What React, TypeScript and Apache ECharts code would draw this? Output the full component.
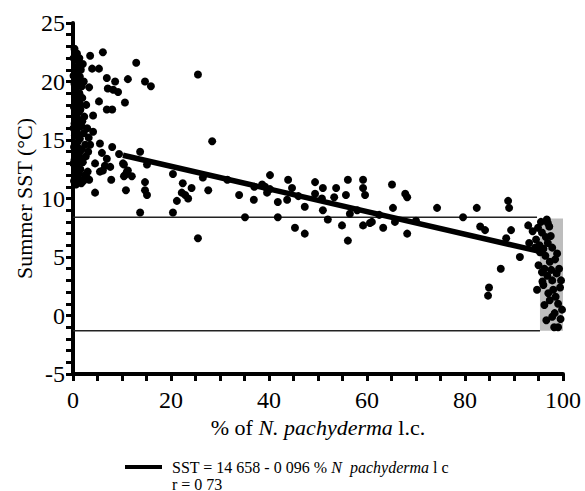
import React, { useEffect, useRef } from "react";
import * as echarts from "echarts";

// Samples with low % N. pachyderma (dense column near 0)
const leftCluster: number[][] = [
  [0.3, 22.8], [0.8, 22.4], [0.5, 21.9], [1.2, 21.6], [0.4, 21.2], [1.6, 21.0], [0.7, 20.6], [1.1, 20.2],
  [0.3, 19.8], [1.8, 19.6], [0.6, 19.3], [1.3, 19.0], [0.4, 18.6], [1.9, 18.6], [0.9, 18.2], [0.2, 17.8],
  [1.5, 17.6], [0.6, 17.2], [1.0, 16.8], [0.3, 16.4], [1.7, 16.2], [0.8, 15.9], [2.2, 15.6], [0.4, 15.4],
  [1.4, 15.1], [0.9, 14.8], [0.2, 14.4], [1.8, 14.2], [0.6, 13.9], [1.2, 13.6], [0.3, 13.3], [2.0, 13.1],
  [0.8, 12.8], [1.5, 12.5], [0.4, 12.2], [2.4, 12.0], [1.0, 11.8], [0.2, 11.5], [1.7, 11.3], [0.6, 11.2],
  [2.8, 11.8], [3.0, 12.3], [2.6, 13.6], [2.5, 14.6], [2.3, 17.0], [2.7, 18.0], [2.2, 20.0], [2.0, 21.5],
  [0.1, 20.5], [0.1, 16.0], [0.1, 13.0], [0.1, 22.0], [1.3, 22.0], [1.4, 14.0], [1.1, 12.2], [2.1, 11.5],
  [0.5, 14.1], [1.5, 18.0], [1.0, 19.8], [0.7, 15.5], [1.9, 16.6], [1.6, 13.2], [0.9, 21.0], [3.2, 15.2],
  [2.9, 16.0], [3.3, 19.5], [1.2, 17.4], [0.5, 20.9], [1.4, 20.4], [0.6, 18.9], [1.2, 18.4], [0.5, 17.5],
  [1.3, 16.5], [0.5, 16.1], [1.1, 15.4], [0.5, 14.7], [1.1, 14.3], [0.7, 12.5], [1.3, 11.6], [0.9, 13.4],
];

// Samples between about 3 % and 30 %
const lowPoints: number[][] = [
  [5.5, 14.7], [8.0, 14.4], [9.4, 13.8], [5.9, 13.9], [6.9, 13.4], [7.6, 12.7], [6.1, 12.4], [7.8, 11.6],
  [10.4, 12.9], [11.0, 12.3], [12.0, 11.9], [10.4, 11.9], [10.8, 10.7], [13.7, 14.0], [15.1, 12.9],
  [14.7, 11.4], [14.7, 10.7], [15.1, 10.3], [13.7, 8.8], [20.4, 8.8], [20.4, 12.1], [22.4, 11.3],
  [22.2, 10.5], [22.9, 10.3], [23.5, 10.0], [24.2, 10.9], [21.2, 9.8], [25.5, 6.6], [28.4, 14.9],
  [27.6, 10.7], [26.5, 11.8], [3.5, 22.2], [6.1, 22.5], [12.9, 21.6], [3.9, 21.1], [5.3, 21.1],
  [6.9, 20.3], [8.6, 20.0], [11.2, 20.2], [14.7, 20.0], [15.9, 19.6], [7.1, 19.4], [8.2, 19.3],
  [9.2, 19.1], [5.3, 18.3], [10.6, 18.2], [6.9, 17.6], [8.0, 17.6], [4.1, 17.1], [4.1, 15.7],
  [3.5, 14.6], [3.1, 14.0], [4.5, 13.0], [6.5, 12.8], [5.5, 12.3], [10.2, 13.0], [10.6, 12.0],
  [11.2, 12.4], [3.3, 11.6], [4.5, 10.5], [25.5, 20.6],
];

// Samples between about 30 % and 94 %
const midPoints: number[][] = [
  [33.9, 10.3], [36.9, 9.9], [35.1, 8.4], [40.2, 12.0], [39.6, 10.5], [39.2, 11.0], [40.2, 10.8],
  [38.6, 11.2], [41.8, 9.7], [43.9, 11.6], [44.7, 10.9], [43.7, 9.9], [41.8, 8.4], [45.3, 7.5],
  [47.3, 7.0], [47.3, 9.3], [49.4, 11.4], [49.4, 10.4], [51.0, 10.9], [50.8, 10.0], [51.0, 9.0],
  [52.0, 8.2], [53.7, 10.9], [53.3, 10.1], [54.9, 7.7], [55.7, 10.3], [56.1, 11.6], [56.1, 6.4],
  [59.2, 11.6], [59.2, 10.9], [59.6, 10.3], [60.6, 7.9], [59.2, 7.7], [56.5, 8.7], [65.1, 11.2],
  [67.8, 10.4], [68.2, 10.1], [65.3, 9.2], [61.0, 8.0], [63.3, 7.5], [68.2, 7.0], [74.3, 9.2],
  [82.4, 9.2], [79.6, 8.4], [83.1, 7.6], [84.1, 7.3], [65.7, 8.0], [88.8, 9.8], [89.0, 9.2],
  [89.4, 7.3], [88.4, 6.6], [92.9, 7.7], [93.1, 6.2], [91.2, 5.0], [87.3, 4.0], [84.9, 2.4],
  [84.7, 1.7], [31.5, 11.6], [37.0, 11.0], [46.0, 10.2], [58.0, 9.0], [62.5, 8.6], [70.0, 8.1],
];

// Samples with high % N. pachyderma (dense column near 100)
const rightCluster: number[][] = [
  [95.5, 8.0], [96.7, 8.2], [97.2, 7.6], [95.7, 7.1], [96.5, 6.7], [96.9, 6.2], [95.2, 6.0], [97.8, 5.8],
  [95.3, 5.4], [96.4, 5.1], [97.3, 4.6], [98.4, 4.8], [95.0, 4.3], [95.7, 3.7], [96.8, 3.4], [97.8, 3.0],
  [98.7, 3.6], [94.7, 2.2], [96.0, 2.6], [99.4, 2.4], [97.0, 1.9], [98.5, 1.6], [97.3, 1.3], [96.2, 0.9],
  [99.8, 0.5], [98.3, 0.2], [97.8, -0.1], [96.6, -0.4], [99.0, -1.0], [98.2, -1.0], [99.5, -0.3],
  [96.0, 5.7], [97.5, 6.8], [98.0, 2.2], [99.0, 1.0], [94.9, 7.5], [96.2, 4.0], [97.6, 3.9], [95.8, 2.9],
  [94.5, 6.5], [94.3, 5.8], [93.8, 7.2], [98.8, 5.3], [99.2, 4.0], [99.6, 3.0], [96.9, 7.9],
];

// Regression line end points: SST = 14.658 - 0.096 * %
const regression: number[][] = [[10.2, 13.7], [95.0, 5.5]];
// Horizontal reference lines
const upperLine: number[][] = [[0, 8.4], [94.7, 8.4]];
const lowerLine: number[][] = [[0, -1.3], [95.3, -1.3]];
// Shaded range (x from, y from, x to, y to)
const shadedBox: number[] = [95.3, -1.3, 100, 8.3];

const xTicks = { min: 0, max: 100, interval: 20 };
const yTicks = { min: -5, max: 25, interval: 5 };

const FONT = "Liberation Serif";

export default function App() {
  const ref = useRef<HTMLDivElement>(null);

  useEffect(() => {
    if (!ref.current) return;
    const chart = echarts.init(ref.current, undefined, { renderer: "svg" });
    const points = [...leftCluster, ...lowPoints, ...midPoints, ...rightCluster];
    const axisLine = { show: true, onZero: false, lineStyle: { color: "#000", width: 4 } };
    const option: any = {
      animation: false,
      backgroundColor: "#fff",
      textStyle: { fontFamily: FONT, color: "#000" },
      grid: { left: 73, right: 22, top: 23, bottom: 117 },
      xAxis: {
        type: "value",
        min: xTicks.min,
        max: xTicks.max,
        interval: xTicks.interval,
        axisLine,
        axisTick: { show: true, length: 7, lineStyle: { color: "#000", width: 3 } },
        minorTick: { show: true, splitNumber: 4, length: 7, lineStyle: { color: "#000", width: 3 } },
        splitLine: { show: false },
        axisLabel: { color: "#000", fontFamily: FONT, fontSize: 24, margin: 14 },
        name: "% of {i|N. pachyderma} l.c.",
        nameLocation: "middle",
        nameGap: 42,
        nameMoveOverlap: false,
        nameTextStyle: {
          color: "#000",
          fontFamily: FONT,
          fontSize: 22,
          rich: { i: { fontStyle: "italic", fontFamily: FONT, fontSize: 22, color: "#000" } },
        },
      },
      yAxis: {
        type: "value",
        min: yTicks.min,
        max: yTicks.max,
        interval: yTicks.interval,
        axisLine,
        axisTick: { show: true, length: 7, lineStyle: { color: "#000", width: 3 } },
        minorTick: { show: true, splitNumber: 5, length: 7, lineStyle: { color: "#000", width: 3 } },
        splitLine: { show: false },
        axisLabel: { color: "#000", fontFamily: FONT, fontSize: 24, margin: 8 },
        name: "Summer SST (°C)",
        nameLocation: "middle",
        nameGap: 38,
        nameMoveOverlap: false,
        nameTextStyle: { color: "#000", fontFamily: FONT, fontSize: 22 },
      },
      series: [
        {
          type: "line",
          data: upperLine,
          symbol: "none",
          lineStyle: { color: "#222", width: 1.5 },
          z: 1,
          markArea: {
            silent: true,
            itemStyle: { color: "#bdbdbd", opacity: 1 },
            data: [[
              { xAxis: shadedBox[0], yAxis: shadedBox[1] },
              { xAxis: shadedBox[2], yAxis: shadedBox[3] },
            ]],
          },
        },
        {
          type: "line",
          data: lowerLine,
          symbol: "none",
          lineStyle: { color: "#222", width: 1.5 },
          z: 1,
        },
        {
          type: "scatter",
          data: points,
          symbol: "circle",
          symbolSize: 8,
          itemStyle: { color: "#000", opacity: 1 },
          z: 3,
        },
        {
          type: "line",
          data: regression,
          symbol: "none",
          lineStyle: { color: "#000", width: 5.5 },
          z: 4,
        },
      ],
      graphic: [
        {
          type: "line",
          shape: { x1: 125, y1: 467, x2: 162, y2: 467 },
          style: { stroke: "#000", lineWidth: 4 },
        },
        {
          type: "text",
          x: 172,
          y: 467,
          style: {
            text: "SST = 14 658 - 0 096 % {i|N  pachyderma} l c",
            fontFamily: FONT,
            fontSize: 16,
            fill: "#000",
            verticalAlign: "middle",
            rich: { i: { fontStyle: "italic", fontFamily: FONT, fontSize: 16, fill: "#000" } },
          },
        },
        {
          type: "text",
          x: 172,
          y: 484,
          style: {
            text: "r = 0 73",
            fontFamily: FONT,
            fontSize: 16,
            fill: "#000",
            verticalAlign: "middle",
          },
        },
      ],
    };
    chart.setOption(option);
    return () => chart.dispose();
  }, []);

  return (
    <div
      ref={ref}
      style={{ position: "absolute", left: 0, top: 0, width: 585, height: 491, background: "#fff" }}
    />
  );
}
